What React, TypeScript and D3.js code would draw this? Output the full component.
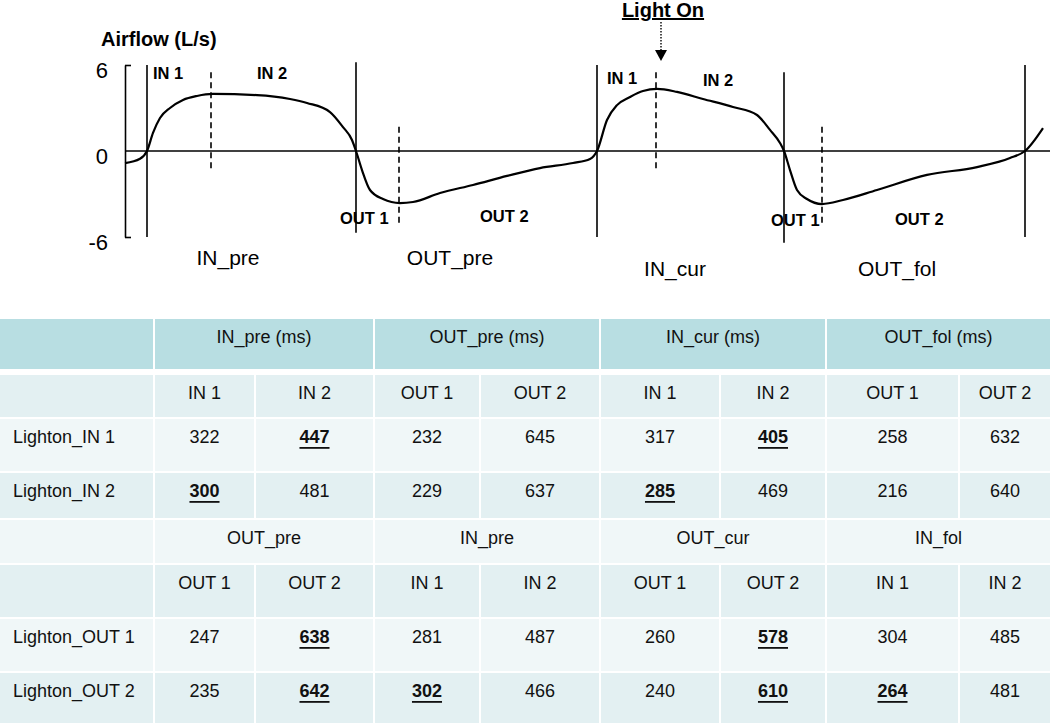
import { useRef, useEffect } from 'react';
import * as d3 from 'd3';

// airflow trace, time in ms, flow in L/s
const traceTime = [0, 60, 88, 112, 140, 180, 232, 288, 352, 528, 660, 728, 820, 872, 908, 924, 948, 980, 1032, 1100, 1152, 1260, 1392, 1528, 1660, 1792, 1860, 1888, 1928, 1968, 2020, 2072, 2128, 2208, 2312, 2432, 2528, 2580, 2620, 2636, 2660, 2688, 2728, 2788, 2872, 3008, 3208, 3408, 3540, 3600, 3672];
const traceFlow = [-0.84, -0.54, 0, 1.26, 2.3, 3.0, 3.56, 3.84, 3.98, 3.9, 3.63, 3.35, 2.72, 1.67, 0.77, 0, -1.33, -2.72, -3.35, -3.63, -3.56, -2.93, -2.37, -1.74, -1.19, -0.84, -0.56, 0, 2.16, 3.2, 3.77, 4.19, 4.33, 4.12, 3.63, 3.07, 2.51, 1.47, 0.56, 0, -1.33, -2.72, -3.35, -3.7, -3.42, -2.72, -1.67, -1.12, -0.49, 0, 1.6];

// phase boundaries (solid) and sub-phase splits (dashed)
const phaseTimes = [88, 924, 1888, 2636, 3600];
const phaseTop = [6, 6.2, 6, 5.5, 6];
const phaseBottom = [-6, -5.7, -6, -6.4, -6];
const splitTimes = [344, 1096, 2124, 2788];
const splitTop = [5.5, 1.7, 5.5, 1.7];
const splitBottom = [-1.3, -5.2, -1.3, -5.2];

// annotations
const subLabels = ['IN 1', 'IN 2', 'OUT 1', 'OUT 2', 'IN 1', 'IN 2', 'OUT 1', 'OUT 2'];
const subLabelTime = [112, 528, 860, 1420, 1928, 2312, 2584, 3080];
const subLabelFlow = [5.0, 5.0, -5.1, -4.95, 4.68, 4.54, -5.23, -5.16];
const phaseLabels = ['IN_pre', 'OUT_pre', 'IN_cur', 'OUT_fol'];
const phaseLabelTime = [412, 1300, 2200, 3088];
const phaseLabelFlow = [-7.95, -7.95, -8.75, -8.75];
const yTicks = [-6, 0, 6];
const lightOnTime = 2144;

// table
const topGroups = ['IN_pre (ms)', 'OUT_pre (ms)', 'IN_cur (ms)', 'OUT_fol (ms)'];
const topSub = ['IN 1', 'IN 2', 'OUT 1', 'OUT 2', 'IN 1', 'IN 2', 'OUT 1', 'OUT 2'];
const bottomGroups = ['OUT_pre', 'IN_pre', 'OUT_cur', 'IN_fol'];
const bottomSub = ['OUT 1', 'OUT 2', 'IN 1', 'IN 2', 'OUT 1', 'OUT 2', 'IN 1', 'IN 2'];
const lightonIn1 = [322, 447, 232, 645, 317, 405, 258, 632];
const lightonIn2 = [300, 481, 229, 637, 285, 469, 216, 640];
const lightonOut1 = [247, 638, 281, 487, 260, 578, 304, 485];
const lightonOut2 = [235, 642, 302, 466, 240, 610, 264, 481];
const boldIn1 = [1, 5];
const boldIn2 = [0, 4];
const boldOut1 = [1, 5];
const boldOut2 = [1, 2, 5, 6];

const FONT = "'Liberation Sans', Arial, sans-serif";
const W = 1050;
const H = 725;

const colEdges = [0, 155, 256, 375, 481, 601, 721, 827, 960, 1052];
const rowTops = [319, 375, 419, 473, 520, 565, 619, 673];
const rowHeights = [50, 42, 52, 45, 43, 52, 52, 50];
const HEAD = '#b8dee2';
const DARK = '#e3f0f2';
const LIGHT = '#f0f7f8';
const rowFills = [HEAD, DARK, LIGHT, DARK, LIGHT, DARK, LIGHT, DARK];

const YAxis = ({ scale, x }) => {
  const ref = useRef(null);
  useEffect(() => {
    if (ref.current) {
      const g = d3.select(ref.current);
      g.call(d3.axisLeft(scale).tickValues(yTicks).tickSizeInner(-6).tickSizeOuter(0).tickPadding(17).tickFormat((d) => String(d)));
      g.selectAll('path').attr('stroke', '#000').attr('stroke-width', 1.6);
      g.selectAll('line').attr('stroke', '#000').attr('stroke-width', 1.6);
      g.selectAll('.tick').filter((d) => d === 0).select('line').remove();
      g.selectAll('.tick text').attr('font-size', 22).attr('font-family', FONT).attr('fill', '#000').attr('dy', '0.55em');
    }
  }, [scale]);
  return <g ref={ref} transform={`translate(${x},0)`} />;
};

const Row = ({ ri, cells, boldIdx = [], label = '' }) => {
  const top = rowTops[ri];
  const cy = top + 18;
  return (
    <g>
      <text x={13} y={cy} dominantBaseline="central" fontSize={18}>{label}</text>
      {cells.map((c, i) => {
        const x0 = colEdges[i + 1];
        const x1 = colEdges[i + 2] - 2;
        const bold = boldIdx.includes(i);
        return (
          <text
            key={i}
            x={(x0 + x1) / 2}
            y={cy}
            dominantBaseline="central"
            textAnchor="middle"
            fontSize={18}
            fontWeight={bold ? 'bold' : 'normal'}
            style={bold ? { textDecoration: 'underline' } : undefined}
          >
            {c}
          </text>
        );
      })}
    </g>
  );
};

const GroupRow = ({ ri, groups }) => {
  const cy = rowTops[ri] + 18;
  return (
    <g>
      {groups.map((gname, i) => {
        const x0 = colEdges[1 + i * 2];
        const x1 = colEdges[3 + i * 2] - 2;
        return (
          <text key={i} x={(x0 + x1) / 2} y={cy} dominantBaseline="central" textAnchor="middle" fontSize={18}>
            {gname}
          </text>
        );
      })}
    </g>
  );
};

export default function App() {
  const x = d3.scaleLinear().domain([0, 3700]).range([125, 1050]);
  const y = d3.scaleLinear().domain([-6, 6]).range([237, 65]);

  const pts = traceTime.map((t, i) => [t, traceFlow[i]]);
  const line = d3
    .line()
    .x((d) => x(d[0]))
    .y((d) => y(d[1]))
    .curve(d3.curveMonotoneX);

  const ax = x(lightOnTime);

  return (
    <svg width={W} height={H} style={{ position: 'absolute', left: 0, top: 0, background: '#fff' }} fontFamily={FONT}>
      {/* chart */}
      <text x={101} y={46} fontSize={20} fontWeight="bold">Airflow (L/s)</text>
      <YAxis scale={y} x={125} />
      <line x1={125} x2={W} y1={y(0)} y2={y(0)} stroke="#000" strokeWidth={1.6} />
      {phaseTimes.map((t, i) => (
        <line key={'p' + i} x1={x(t)} x2={x(t)} y1={y(phaseTop[i])} y2={y(phaseBottom[i])} stroke="#000" strokeWidth={1.6} />
      ))}
      {splitTimes.map((t, i) => (
        <line key={'s' + i} x1={x(t)} x2={x(t)} y1={y(splitTop[i])} y2={y(splitBottom[i])} stroke="#000" strokeWidth={1.6} strokeDasharray="6,4" />
      ))}
      <path d={line(pts)} fill="none" stroke="#000" strokeWidth={2.2} />
      {subLabels.map((s, i) => (
        <text key={'sl' + i} x={x(subLabelTime[i])} y={y(subLabelFlow[i])} fontSize={16.5} fontWeight="bold">{s}</text>
      ))}
      {phaseLabels.map((s, i) => (
        <text key={'pl' + i} x={x(phaseLabelTime[i])} y={y(phaseLabelFlow[i])} fontSize={21} textAnchor="middle">{s}</text>
      ))}
      <text x={ax + 2} y={17} fontSize={20} fontWeight="bold" textAnchor="middle" style={{ textDecoration: 'underline' }}>Light On</text>
      <line x1={ax} x2={ax} y1={22} y2={50} stroke="#000" strokeWidth={1.4} strokeDasharray="1.5,1.5" />
      <path d={`M${ax - 6},50 L${ax + 6},50 L${ax},61 Z`} fill="#000" />

      {/* table */}
      {rowTops.map((top, ri) =>
        colEdges.slice(0, -1).map((c0, ci) => {
          // group rows merge pairs of columns
          const merged = ri === 0 || ri === 4;
          if (merged && ci > 0 && ci % 2 === 0) return null;
          const x1 = merged && ci > 0 ? colEdges[ci + 2] - 2 : colEdges[ci + 1] - 2;
          return <rect key={ri + '-' + ci} x={c0} y={top} width={x1 - c0} height={rowHeights[ri]} fill={rowFills[ri]} />;
        })
      )}
      <g fill="#111">
        <GroupRow ri={0} groups={topGroups} />
        <Row ri={1} cells={topSub} />
        <Row ri={2} cells={lightonIn1} boldIdx={boldIn1} label="Lighton_IN 1" />
        <Row ri={3} cells={lightonIn2} boldIdx={boldIn2} label="Lighton_IN 2" />
        <GroupRow ri={4} groups={bottomGroups} />
        <Row ri={5} cells={bottomSub} />
        <Row ri={6} cells={lightonOut1} boldIdx={boldOut1} label="Lighton_OUT 1" />
        <Row ri={7} cells={lightonOut2} boldIdx={boldOut2} label="Lighton_OUT 2" />
      </g>
    </svg>
  );
}
